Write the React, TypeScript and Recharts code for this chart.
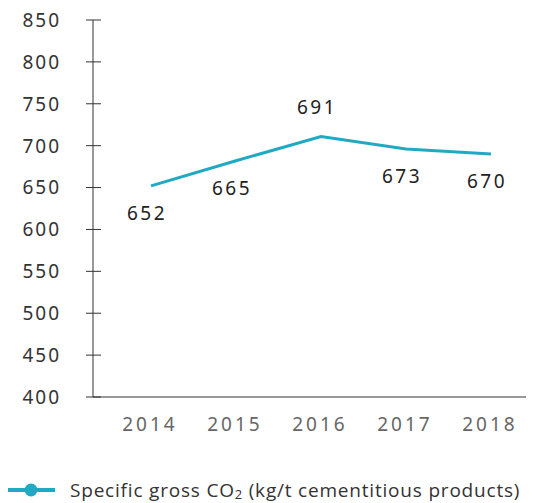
import { Legend, Line, LineChart, LabelList, XAxis, YAxis } from 'recharts';

const years = ['2014', '2015', '2016', '2017', '2018'];
// where the line is actually drawn
const co2Line = [652, 682, 711, 696, 690];
// the figures printed beside each point
const co2Labels = ['652', '665', '691', '673', '670'];
const yTicks = [400, 450, 500, 550, 600, 650, 700, 750, 800, 850];
const seriesName = 'Specific gross CO';

const data = years.map((year, i) => ({ year, co2: co2Line[i] }));

const TEAL = '#20a9c2';
const AXIS = '#333';
const tickFont = "'Noto Sans', sans-serif";

function YTick(props: any) {
  const { x, y, payload } = props;
  return (
    <g>
      <line x1={x - 7} x2={x + 8} y1={y} y2={y} stroke={AXIS} />
      <text
        x={x - 32}
        y={y}
        dy="0.36em"
        textAnchor="end"
        fontFamily={tickFont}
        fontSize={19}
        letterSpacing={2}
        fill="#333"
      >
        {payload.value}
      </text>
    </g>
  );
}

function XTick(props: any) {
  const { x, y, payload } = props;
  return (
    <text
      x={x - 1}
      y={y + 34}
      textAnchor="middle"
      fontFamily={tickFont}
      fontSize={19}
      letterSpacing={3}
      fill="#666"
    >
      {payload.value}
    </text>
  );
}

function PointLabel(props: any) {
  const { x, y, index } = props;
  const above = index === 2;
  return (
    <text
      x={x - 4}
      y={above ? y - 29 : y + 27}
      dy="0.36em"
      textAnchor="middle"
      fontFamily={tickFont}
      fontSize={19}
      letterSpacing={2.5}
      fill="#222"
    >
      {co2Labels[index]}
    </text>
  );
}

function LegendContent() {
  return (
    <div style={{ display: 'flex', alignItems: 'center', height: 26 }}>
      <svg width={47} height={14} style={{ flex: 'none', display: 'block' }}>
        <line x1={0} x2={47} y1={7} y2={7} stroke={TEAL} strokeWidth={4} />
        <circle cx={23} cy={7} r={6.5} fill={TEAL} />
      </svg>
      <span
        style={{
          marginLeft: 15,
          fontFamily: "'Open Sans', sans-serif",
          fontSize: 19,
          letterSpacing: 0.8,
          color: '#333',
          whiteSpace: 'nowrap'
        }}
      >
        {seriesName}
        <sub style={{ fontSize: 13, verticalAlign: '-2px' }}>2</sub> (kg/t cementitious products)
      </span>
    </div>
  );
}

export default function App() {
  return (
    <LineChart
      width={526}
      height={495}
      data={data}
      margin={{ top: 12, right: 3, left: 0, bottom: 0 }}
    >
      <XAxis
        dataKey="year"
        stroke={AXIS}
        tickLine={false}
        tickSize={0}
        tickMargin={0}
        height={80}
        padding={{ left: 58, right: 40 }}
        tick={<XTick />}
        interval={0}
      />
      <YAxis
        yAxisId="left"
        domain={[400, 850]}
        ticks={yTicks}
        stroke={AXIS}
        tickLine={false}
        tickSize={0}
        tickMargin={0}
        width={85}
        tick={<YTick />}
        interval={0}
      />
      <YAxis
        yAxisId="right"
        orientation="right"
        domain={[400, 850]}
        stroke={AXIS}
        tick={false}
        tickLine={false}
        width={0}
      />
      <Legend
        verticalAlign="bottom"
        align="left"
        height={26}
        wrapperStyle={{ left: 0, bottom: 0 }}
        content={<LegendContent />}
      />
      <Line
        yAxisId="left"
        dataKey="co2"
        name={seriesName}
        stroke={TEAL}
        strokeWidth={3}
        dot={false}
        isAnimationActive={false}
      >
        <LabelList dataKey="co2" content={<PointLabel />} />
      </Line>
    </LineChart>
  );
}
